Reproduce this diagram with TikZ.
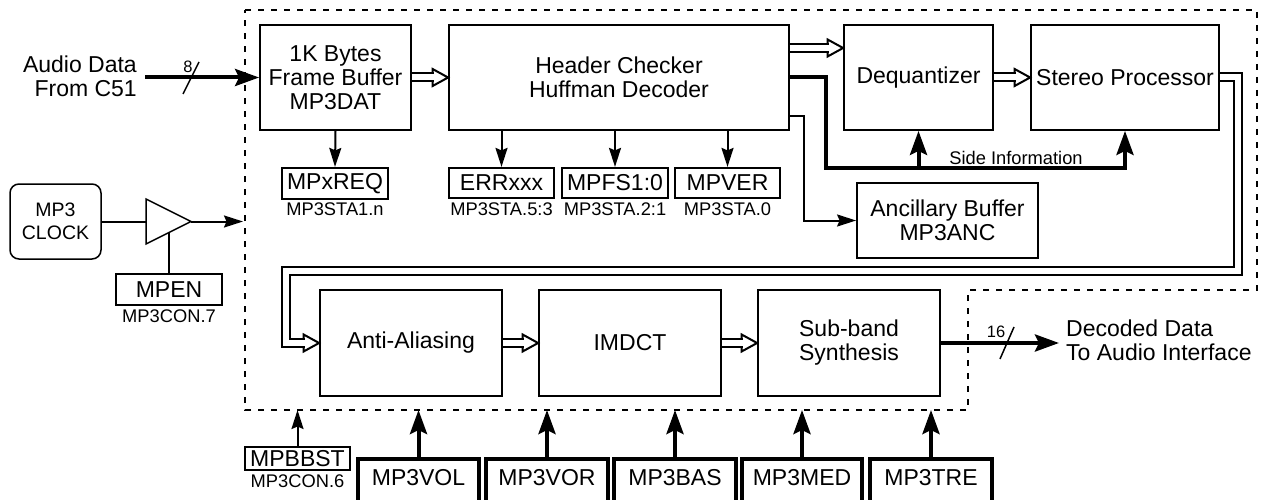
\documentclass[tikz,border=0pt]{standalone}
\usepackage{fontspec}
\setmainfont{Liberation Sans}
\usetikzlibrary{arrows.meta,calc}
\newcommand\bigf{\fontsize{23}{24}\selectfont}
\newcommand\midf{\fontsize{18.3}{20}\selectfont}
\newcommand\smf{\fontsize{16.5}{18}\selectfont}
\newcommand\hhead[1]{\draw[line width=2pt, fill=white, line join=miter] ($(#1)+(-15.5,-8.5)$) -- (#1) -- ($(#1)+(-15.5,8.5)$) -- cycle;}
\tikzset{
 box/.style={draw, line width=1.8pt, inner sep=0pt, align=center, font=\bigf},
 reg/.style={draw, line width=2.2pt, inner sep=0pt, font=\bigf},
 tbox/.style={draw, line width=4pt, inner sep=0pt, minimum width=121pt, minimum height=86pt, anchor=north},
 bigtxt/.style={font=\bigf, inner sep=0pt},
 midtxt/.style={font=\midf, inner sep=0pt},
 smtxt/.style={font=\smf, inner sep=0pt},
 thinln/.style={line width=2pt},
 thinarr/.style={line width=2pt, -{Stealth[length=19pt, width=12pt, inset=2.5pt]}},
 thickarr/.style={line width=4pt, line join=miter, -{Stealth[length=24pt, width=17pt, inset=4pt]}},
 dshaft/.style={double, double distance=6pt, line width=2pt, line join=miter, shorten >=14pt},
 border/.style={line width=2pt, dash pattern=on 6pt off 7pt},
}
\begin{document}
\begin{tikzpicture}[x=1pt,y=-1pt]
\path[use as bounding box] (0,0) rectangle (1271,500);
\clip (0,0) rectangle (1271,500);

% dashed boundary
\coordinate (dbot) at (245,410);
\draw[border] (245,10) -- (1257,10) -- (1257,290) -- (968,290) -- (968,410) -- (245,410) -- cycle;

% main blocks
\node[box, minimum width=151pt, minimum height=105pt] (fb) at (335.5,77.5) {1K Bytes\\Frame Buffer\\MP3DAT};
\node[box, minimum width=340pt, minimum height=105pt] (hh) at (619,77.5) {Header Checker\\Huffman Decoder};
\node[box, minimum width=149pt, minimum height=105pt] (dq) at (918.5,77.5) {Dequantizer};
\node[box, minimum width=188pt, minimum height=105pt] (sp) at (1125,77.5) {Stereo Processor};
\node[box, minimum width=181pt, minimum height=75pt] (anc) at (947.5,220.5) {Ancillary Buffer\\MP3ANC};
\node[box, minimum width=182pt, minimum height=106pt] (aa) at (411,343) {Anti-Aliasing};
\node[box, minimum width=182pt, minimum height=106pt] (im) at (630,343) {IMDCT};
\node[box, minimum width=182pt, minimum height=106pt] (sb) at (849,343) {Sub-band\\Synthesis};

% registers
\node[reg, minimum width=106pt, minimum height=31pt] (req) at (335,183.5) {MPxREQ};
\node[midtxt] (reql) at (335,209) {MP3STA1.n};
\node[reg, minimum width=105pt, minimum height=30pt] (err) at (501.5,183) {ERRxxx};
\node[midtxt] (errl) at (501.5,209) {MP3STA.5:3};
\node[reg, minimum width=106pt, minimum height=30pt] (fs) at (615,183) {MPFS1:0};
\node[midtxt] (fsl) at (615,209) {MP3STA.2:1};
\node[reg, minimum width=105pt, minimum height=30pt] (ver) at (727.5,183) {MPVER};
\node[midtxt] (verl) at (727.5,209) {MP3STA.0};

\draw[thinarr] (fb.south) -- (req.north);
\draw[thinarr] (err.north |- hh.south) -- (err.north);
\draw[thinarr] (fs.north |- hh.south) -- (fs.north);
\draw[thinarr] (ver.north |- hh.south) -- (ver.north);

% input
\coordinate (ain) at (145,77.5);
\node[bigtxt, align=right, anchor=east] (atxt) at (137,76) {Audio Data\\From C51};
\draw[thickarr] (ain) -- (fb.west);
\draw[line width=1.5pt] (183,94) -- (199,62);
\node[smtxt] (n8) at (188,67) {8};

% hollow data arrows (head first, then double shaft)
\coordinate (hq1) at ([yshift=29.5pt]hh.east);
\coordinate (hq2) at ([yshift=29.5pt]dq.west);
\hhead{hh.west}
\hhead{hq2}
\hhead{sp.west}
\hhead{im.west}
\hhead{sb.west}
\hhead{aa.west}
\draw[dshaft] (fb.east) -- (hh.west);
\draw[dshaft] (hq1) -- (hq2);
\draw[dshaft] (dq.east) -- (sp.west);
\draw[dshaft] (aa.east) -- (im.west);
\draw[dshaft] (im.east) -- (sb.west);
\coordinate (lpx) at (1238,0);
\coordinate (lpy) at (286,270.5);
\draw[dshaft] (sp.east) -| (lpx |- lpy) -| (lpy |- aa.west) -- (aa.west);

% side information
\coordinate (sbus) at (826,168);
\draw[thickarr] (hh.east) -| (sbus) -| (sp.south);
\draw[thickarr] (dq.south |- sbus) -- (dq.south);
\node[midtxt] (sinfo) at (1016,158) {Side Information};

% ancillary
\coordinate (abend) at (804,0);
\draw[thinarr] ([yshift=-38.5pt]hh.east) -| (abend |- anc.west) -- (anc.west);

% clock
\node[draw, line width=1.5pt, rounded corners=9pt, minimum width=91pt, minimum height=75pt, inner sep=0pt, align=center, font=\fontsize{19.5}{23}\selectfont] (clk) at (55.5,221.5) {MP3\\CLOCK};
\draw[line width=1.5pt, line join=miter] (146,199) -- (191,221.5) -- (146,244) -- cycle;
\coordinate (bin) at (146,221.5);
\coordinate (bout) at (191,221.5);
\coordinate (bbot) at (169,232.7);
\coordinate (clkend) at (243,221.5);
\draw[thinln] (clk.east) -- (bin);
\draw[thinarr] (bout) -- (clkend);
\node[reg, minimum width=106pt, minimum height=31pt] (mpen) at (169,289.5) {MPEN};
\node[midtxt] (mpenl) at (169,316) {MP3CON.7};
\draw[thinln] (mpen.north) -- (bbot);

% output
\coordinate (dout) at (1059,343);
\draw[thickarr] (sb.east) -- (dout);
\draw[line width=1.5pt] (1000,359) -- (1014,327);
\node[smtxt] (n16) at (996,332) {16};
\node[bigtxt, align=left, anchor=west] (dtxt) at (1066,340) {Decoded Data\\To Audio Interface};

% bottom registers
\node[reg, minimum width=105pt, minimum height=23pt] (bbst) at (297.5,458.5) {MPBBST};
\node[midtxt] (bbstl) at (297.5,481) {MP3CON.6};
\draw[thinarr] (bbst.north) -- (bbst.north |- dbot);

\node[tbox] (vol) at (418.5,457) {};
\node[bigtxt] (volt) at ([yshift=-21pt]vol.north) {MP3VOL};
\node[tbox, minimum width=122pt] (vor) at (547,457) {};
\node[bigtxt] (vort) at ([yshift=-21pt]vor.north) {MP3VOR};
\node[tbox, minimum width=122pt] (bas) at (675,457) {};
\node[bigtxt] (bast) at ([yshift=-21pt]bas.north) {MP3BAS};
\node[tbox, minimum width=120pt] (med) at (802,457) {};
\node[bigtxt] (medt) at ([yshift=-21pt]med.north) {MP3MED};
\node[tbox, minimum width=122pt] (tre) at (931,457) {};
\node[bigtxt] (tret) at ([yshift=-21pt]tre.north) {MP3TRE};
\foreach \b in {vol,vor,bas,med,tre}
  \draw[thickarr] (\b.north) -- (\b.north |- dbot);
\end{tikzpicture}
\end{document}
